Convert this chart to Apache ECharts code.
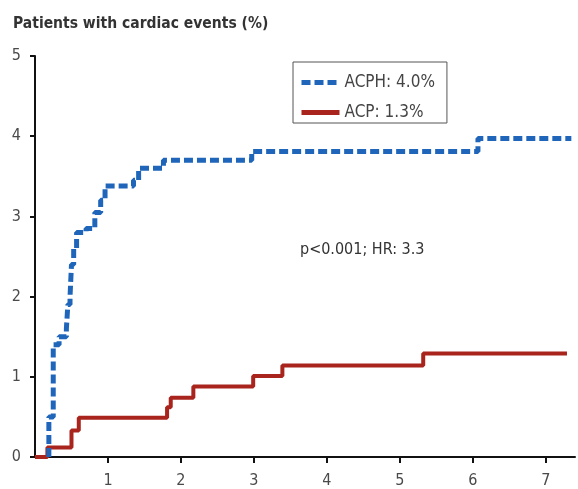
<!DOCTYPE html>
<html><head><meta charset="utf-8">
<script src="https://cdn.jsdelivr.net/npm/echarts@6/dist/echarts.min.js"></script>
<style>html,body{margin:0;padding:0;background:#fff}#c{width:578px;height:489px}</style>
</head><body><div id="c"></div>
<script>
// Step points: [time (years), cumulative % with events after the step]
var acphTimes  = [0.19, 0.19, 0.25, 0.25, 0.33, 0.43, 0.45, 0.48, 0.50, 0.53, 0.57, 0.70, 0.82, 0.90, 0.96, 1.35, 1.42, 1.76, 2.97, 6.07, 7.35];
var acphValues = [0.00, 0.50, 0.60, 1.40, 1.50, 1.60, 1.90, 2.00, 2.40, 2.60, 2.80, 2.85, 3.05, 3.20, 3.38, 3.45, 3.60, 3.70, 3.81, 3.97, 3.97];
var acpTimes   = [0.00, 0.17, 0.50, 0.60, 1.81, 1.86, 2.17, 2.99, 3.39, 5.32, 7.29];
var acpValues  = [0.00, 0.12, 0.33, 0.49, 0.62, 0.74, 0.88, 1.01, 1.14, 1.29, 1.29];
var xTicks = [1, 2, 3, 4, 5, 6, 7];
var yTicks = [0, 1, 2, 3, 4, 5];
var seriesNames = ['ACPH: 4.0%', 'ACP: 1.3%'];
var titleText = 'Patients with cardiac events (%)';
var noteText = 'p<0.001; HR: 3.3';

function pairs(xs, ys) { return xs.map(function (x, i) { return [x, ys[i]]; }); }

var chart = echarts.init(document.getElementById('c'), null, {renderer: 'canvas'});
var font = '"DejaVu Sans Condensed", Arial, sans-serif';
chart.setOption({
  animation: false,
  backgroundColor: '#fff',
  title: {text: titleText, left: 8, top: 11,
    textStyle: {fontFamily: font, fontSize: 15.5, fontWeight: 'bold', color: '#333'}},
  legend: {
    left: 293, top: 62, orient: 'vertical', itemGap: 13,
    itemWidth: 38, itemHeight: 14,
    padding: [12, 12, 2, 6],
    borderColor: '#555', borderWidth: 1,
    itemStyle: {opacity: 0},
    lineStyle: {width: 5},
    textStyle: {fontFamily: font, fontSize: 17, color: '#444', padding: [0, 0, 0, 0]},
    data: seriesNames
  },
  grid: {left: 35, right: 3, top: 56, bottom: 30},
  xAxis: {
    type: 'value', min: 0, max: 7.4,
    axisLine: {lineStyle: {color: '#111', width: 2}},
    axisTick: {length: 6, lineStyle: {color: '#111', width: 2}, customValues: xTicks},
    axisLabel: {customValues: xTicks, fontFamily: font, fontSize: 16, color: '#4a4a4a', margin: 16},
    splitLine: {show: false}
  },
  yAxis: {
    type: 'value', min: 0, max: 5, interval: 1,
    axisLine: {show: true, lineStyle: {color: '#111', width: 2}},
    axisTick: {show: true, length: 5, lineStyle: {color: '#111', width: 2}, customValues: yTicks},
    axisLabel: {customValues: yTicks, fontFamily: font, fontSize: 16, color: '#4a4a4a', margin: 14},
    splitLine: {show: false}
  },
  graphic: [{
    type: 'text', left: 300, top: 242,
    style: {text: noteText, font: '16px ' + font, fill: '#333'}
  }],
  series: [
    {name: seriesNames[0], type: 'line', step: 'end', symbol: 'none',
     data: pairs(acphTimes, acphValues), color: '#1f66bb',
     lineStyle: {width: 5, type: [9, 4], color: '#1f66bb'}, z: 3},
    {name: seriesNames[1], type: 'line', step: 'end', symbol: 'none',
     data: pairs(acpTimes, acpValues), color: '#a8241c',
     lineStyle: {width: 4, color: '#a8241c'}, z: 2}
  ]
});
</script></body></html>
